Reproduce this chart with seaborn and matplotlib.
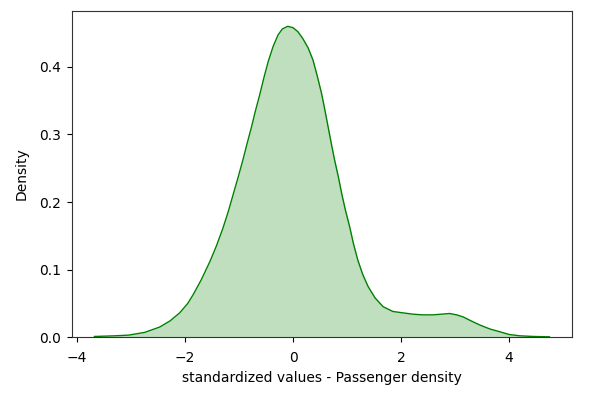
import matplotlib
matplotlib.use("Agg")
import matplotlib.pyplot as plt
import seaborn as sns
import pandas as pd

# Density curve
x_values = [-3.68, -3.30, -3.05, -2.75, -2.47, -2.28, -2.10, -1.95, -1.85, -1.70,
            -1.54, -1.42, -1.30, -1.20, -1.11, -1.02, -0.93, -0.85, -0.77, -0.70,
            -0.62, -0.54, -0.46, -0.37, -0.28, -0.20, -0.10, 0.00, 0.09, 0.18,
            0.28, 0.37, 0.45, 0.53, 0.59, 0.65, 0.71, 0.77, 0.84, 0.90,
            0.97, 1.05, 1.12, 1.20, 1.29, 1.39, 1.52, 1.67, 1.85, 2.03,
            2.22, 2.40, 2.59, 2.75, 2.90, 3.03, 3.15, 3.30, 3.46, 3.65,
            3.83, 4.00, 4.20, 4.45, 4.75]
density = [0.001, 0.002, 0.003, 0.007, 0.015, 0.024, 0.036, 0.050, 0.063, 0.085,
           0.112, 0.135, 0.161, 0.186, 0.211, 0.236, 0.262, 0.287, 0.311, 0.334,
           0.358, 0.384, 0.408, 0.430, 0.447, 0.456, 0.460, 0.458, 0.452, 0.442,
           0.428, 0.410, 0.386, 0.360, 0.336, 0.311, 0.286, 0.262, 0.237, 0.213,
           0.188, 0.163, 0.138, 0.114, 0.093, 0.075, 0.058, 0.045, 0.038, 0.036,
           0.034, 0.033, 0.033, 0.034, 0.035, 0.033, 0.030, 0.024, 0.018, 0.012,
           0.008, 0.004, 0.002, 0.001, 0.0005]

x_label = "standardized values - Passenger density"
y_label = "Density"

df = pd.DataFrame({"x": x_values, "density": density})

plt.rcParams["font.family"] = ["DejaVu Sans"]
fig = plt.figure(figsize=(6.08, 3.99), dpi=100)
ax = fig.add_axes([0.118, 0.155, 0.823, 0.818])

color = (0.0, 0.5, 0.0)
ax.fill_between(df["x"], df["density"], 0, color=color, alpha=0.25, linewidth=0)
sns.lineplot(data=df, x="x", y="density", color=color, linewidth=1.0, ax=ax)

ax.set_xlabel(x_label, fontsize=10, labelpad=4)
ax.set_ylabel(y_label, fontsize=10, labelpad=7)
ax.set_xticks([-4, -2, 0, 2, 4])
ax.set_yticks([0.0, 0.1, 0.2, 0.3, 0.4])
ax.tick_params(axis="x", pad=6.5)
ax.tick_params(axis="y", pad=4.5)
ax.set_xlim(-4.10, 5.17)
ax.set_ylim(0, 0.483)
for s in ax.spines.values():
    s.set_color("#333333")
    s.set_linewidth(0.8)

fig.savefig("out.png", dpi=100)
